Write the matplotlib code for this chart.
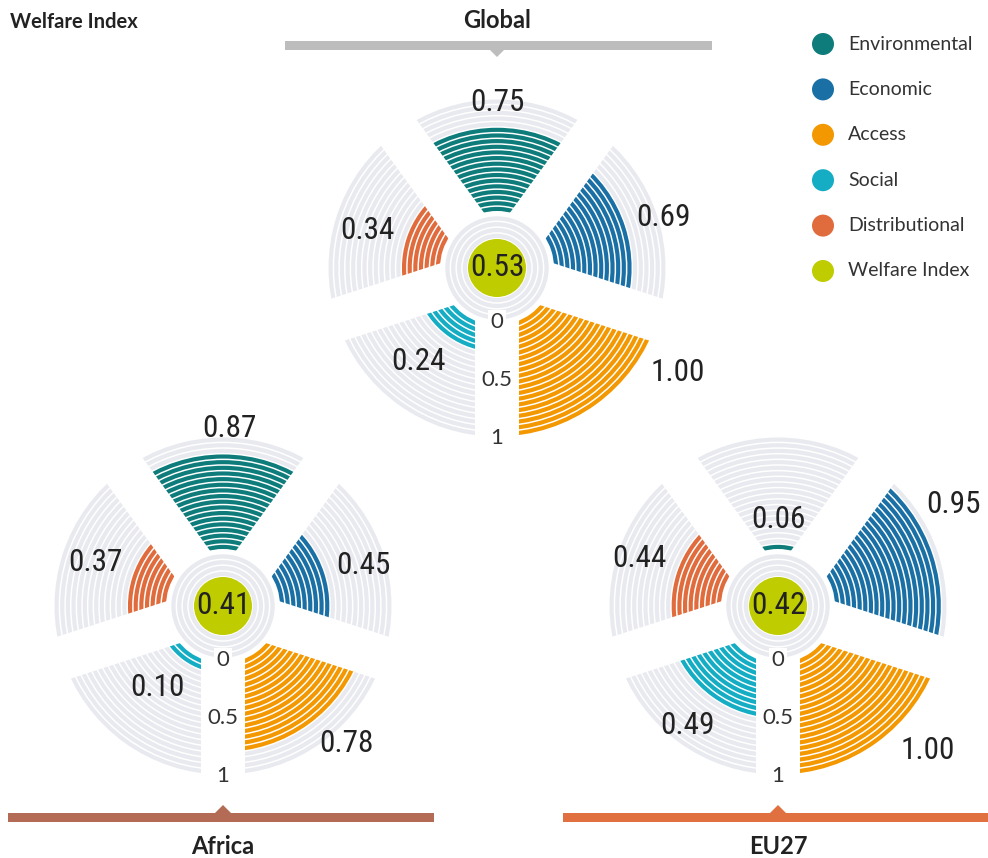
import numpy as np
import matplotlib
matplotlib.use("Agg")
import matplotlib.pyplot as plt
from matplotlib.patches import Wedge, Circle, Polygon, Rectangle

# data
categories = ["Environmental", "Economic", "Access", "Social", "Distributional"]
regions = ["Global", "Africa", "EU27"]
global_vals = [0.75, 0.69, 1.00, 0.24, 0.34]
africa_vals = [0.87, 0.45, 0.78, 0.10, 0.37]
eu27_vals = [0.06, 0.95, 1.00, 0.49, 0.44]
welfare_index = [0.53, 0.41, 0.42]
axis_ticks = [0, 0.5, 1]
axis_tick_labels = ["0", "0.5", "1"]

colors = ["#0e7c7b", "#1a70a5", "#f39800", "#14adc4", "#e06b3c"]
welfare_color = "#bfcc00"
grey = "#e9eaef"

W, H = 988, 858
fig = plt.figure(figsize=(W / 100, H / 100), dpi=100)
ax = fig.add_axes([0, 0, 1, 1])
ax.set_xlim(0, W)
ax.set_ylim(0, H)
ax.set_aspect("equal")
ax.axis("off")

num_font = ["Roboto Condensed", "DejaVu Sans"]
txt_font = ["Lato", "DejaVu Sans"]

# geometry (pixels)
R0, R1 = 57, 170
N_RINGS = 20
D = (R1 - R0) / N_RINGS
GAP = 1.5
STRIP = 44
sector_angles = [90, 18, -54, -126, 162]
boundaries = [54, -18, -90, -162, 126]

layout = {
    "Global": dict(c=(497, 268), lab=[90, 17, -30, -130, 164], bar=(285, 712, 45), bar_col="#bdbdbd", up=False),
    "Africa": dict(c=(223, 606), lab=[88, 16, -48, -129, 161], bar=(8, 434, 817), bar_col="#b36b55", up=True),
    "EU27": dict(c=(778, 606), lab=[90, 30, -44, -127, 161], bar=(563, 988, 817), bar_col="#e07040", up=True),
}


def draw_region(name, vals, index):
    lay = layout[name]
    cx, cy = lay["c"][0], H - lay["c"][1]
    # sector rings
    for k, v in enumerate(vals):
        a = sector_angles[k]
        n = int(round(v / 0.05))
        for i in range(N_RINGS):
            rin = R0 + i * D
            rout = rin + D - GAP
            col = colors[k] if i < n else grey
            ax.add_patch(Wedge((cx, cy), rout, a - 36, a + 36, width=rout - rin,
                               fc=col, ec="none", zorder=2))
    # white gap strips
    for b in boundaries:
        t = np.deg2rad(b)
        u = np.array([np.cos(t), np.sin(t)])
        p = np.array([-np.sin(t), np.cos(t)])
        c = np.array([cx, cy])
        pts = [c - p * STRIP / 2, c + u * (R1 + 10) - p * STRIP / 2,
               c + u * (R1 + 10) + p * STRIP / 2, c + p * STRIP / 2]
        ax.add_patch(Polygon(pts, closed=True, fc="white", ec="none", zorder=3))
    # centre rings and welfare index
    for i in range(4):
        rin = 30 + i * 5.8
        ax.add_patch(Wedge((cx, cy), rin + 4.3, 0, 360, width=4.3, fc=grey, ec="none", zorder=4))
    ax.add_patch(Circle((cx, cy), 29, fc=welfare_color, ec="none", zorder=5))
    ax.text(cx, cy, f"{index:.2f}", ha="center", va="center", fontsize=22.5,
            family=num_font, color="#222222", zorder=6)
    # axis labels
    for t, lab in zip(axis_ticks, axis_tick_labels):
        r = 54 + t * 116
        ax.text(cx, cy - r, lab, ha="center", va="center", fontsize=16, family=txt_font,
                color="#333333", zorder=7,
                bbox=dict(boxstyle="square,pad=0.1", fc="white", ec="none") if t == 0 else None)
    # value labels
    for k, v in enumerate(vals):
        n = int(round(v / 0.05))
        rv = R0 + n * D
        ang = np.deg2rad(lay["lab"][k])
        ext = abs(np.cos(ang)) * 25 + abs(np.sin(ang)) * 14
        r = rv + ext + 10
        ax.text(cx + r * np.cos(ang), cy + r * np.sin(ang), f"{v:.2f}", ha="center",
                va="center", fontsize=22.5, family=num_font, color="#222222", zorder=7)
    # title bar
    x0, x1, yb = lay["bar"]
    yb = H - yb
    ax.add_patch(Rectangle((x0, yb - 4.5), x1 - x0, 9, fc=lay["bar_col"], ec="none", zorder=2))
    tx = lay["c"][0]
    if lay["up"]:
        tri = [(tx - 8, yb + 4), (tx + 8, yb + 4), (tx, yb + 12)]
        ty = yb - 30
    else:
        tri = [(tx - 8, yb - 4), (tx + 8, yb - 4), (tx, yb - 12)]
        ty = yb + 25
    ax.add_patch(Polygon(tri, closed=True, fc=lay["bar_col"], ec="none", zorder=2))
    ax.text(tx, ty, name, ha="center", va="center", fontsize=17, fontweight="bold",
            family=txt_font, color="#222222")


for name, vals, idx in zip(regions, [global_vals, africa_vals, eu27_vals], welfare_index):
    draw_region(name, vals, idx)

# legend
legend_labels = categories + ["Welfare Index"]
legend_colors = colors + [welfare_color]
for i, (lab, col) in enumerate(zip(legend_labels, legend_colors)):
    y = H - (44 + i * 45.4)
    ax.add_patch(Circle((823, y), 11, fc=col, ec="none"))
    ax.text(848, y, lab, ha="left", va="center", fontsize=14, family=txt_font, color="#333333")

ax.text(10, H - 22, "Welfare Index", ha="left", va="center", fontsize=14.5,
        fontweight="bold", family=txt_font, color="#222222")

fig.savefig("out.png", dpi=100)
